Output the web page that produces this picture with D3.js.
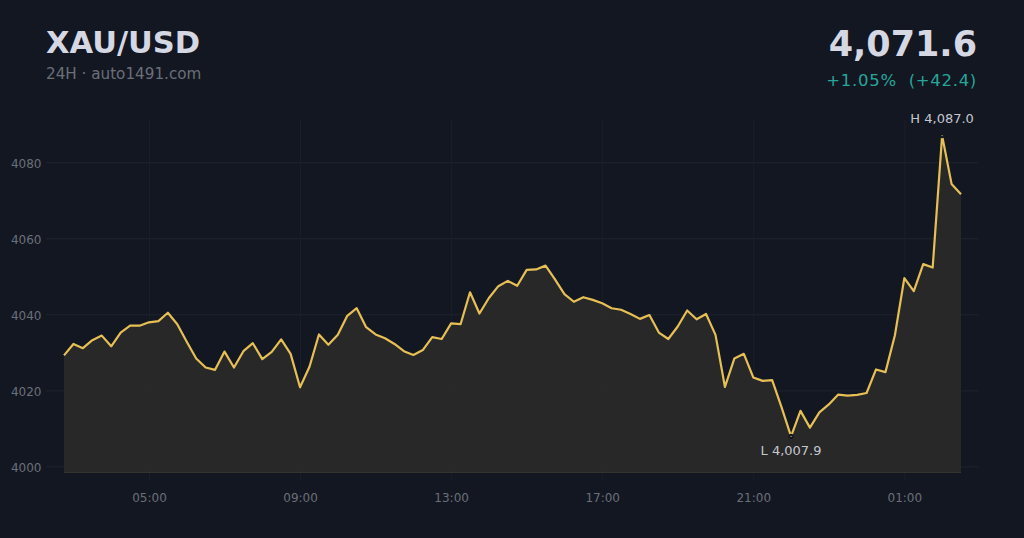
<!DOCTYPE html>
<html>
<head>
<meta charset="utf-8">
<script src="https://cdn.jsdelivr.net/npm/d3@7/dist/d3.min.js"></script>
<style>
  html, body { margin: 0; padding: 0; background: #131722; }
  svg { display: block; }
  text { font-family: "DejaVu Sans", sans-serif; }
</style>
</head>
<body>
<svg id="chart" width="1024" height="538"></svg>
<script>
// ---- data ----
const symbol = "XAU/USD";
const subtitle = "24H · auto1491.com";
const lastPriceLabel = "4,071.6";
const changeLabel = "+1.05%  (+42.4)";
const startTime = "02:45";      // first sample, 15-minute steps
const stepMinutes = 15;
const prices = [
  4029.2, 4032.2, 4031.1, 4033.2, 4034.4, 4031.6, 4035.2, 4037.0, 4037.0, 4037.9,
  4038.2, 4040.4, 4037.4, 4032.8, 4028.4, 4026.0, 4025.4, 4030.2, 4026.0, 4030.3,
  4032.4, 4028.2, 4030.1, 4033.4, 4029.6, 4020.8, 4026.2, 4034.7, 4032.0, 4034.6,
  4039.6, 4041.6, 4036.6, 4034.7, 4033.7, 4032.2, 4030.3, 4029.3, 4030.6, 4034.0,
  4033.5, 4037.6, 4037.4, 4045.8, 4040.2, 4044.3, 4047.4, 4048.8, 4047.5, 4051.7,
  4051.8, 4052.8, 4049.2, 4045.3, 4043.3, 4044.5, 4043.8, 4042.9, 4041.6, 4041.2,
  4040.1, 4038.8, 4039.8, 4035.2, 4033.5, 4036.8, 4041.0, 4038.7, 4040.1, 4034.6,
  4020.9, 4028.4, 4029.6, 4023.4, 4022.5, 4022.7, 4015.5, 4007.9, 4014.6, 4010.2,
  4014.2, 4016.3, 4018.9, 4018.6, 4018.8, 4019.3, 4025.5, 4024.8, 4034.5, 4049.5,
  4046.1, 4053.2, 4052.3, 4087.0, 4074.3, 4071.6
];
const xTickLabels = ["05:00", "09:00", "13:00", "17:00", "21:00", "01:00"];
const yTicks = [4000, 4020, 4040, 4060, 4080];
const highLabel = "H 4,087.0";
const lowLabel = "L 4,007.9";

// ---- build time axis data ----
const [sh, sm] = startTime.split(":").map(Number);
const t0 = new Date(2024, 0, 1, sh, sm);
const points = prices.map((v, i) => ({ t: new Date(t0.getTime() + i * stepMinutes * 60000), v }));
const tickDates = xTickLabels.map(s => {
  const [h, m] = s.split(":").map(Number);
  let d = new Date(2024, 0, 1, h, m);
  if (d < t0) d = new Date(2024, 0, 2, h, m);
  return d;
});

// ---- layout ----
const svg = d3.select("#chart");
const W = 1024, H = 538;
svg.append("rect").attr("width", W).attr("height", H).attr("fill", "#131722");

const plotTop = 120, plotBottom = 472.5;
const x = d3.scaleTime().domain(d3.extent(points, d => d.t)).range([64, 961]);
const y = d3.scaleLinear().domain([3998.4, 4091.1]).range([plotBottom, plotTop]);

// horizontal grid + y labels
const yAxis = svg.append("g")
  .attr("transform", "translate(46,0)")
  .call(d3.axisLeft(y).tickValues(yTicks).tickSize(-932).tickPadding(4.5).tickFormat(d3.format("d")));
yAxis.select(".domain").remove();
yAxis.selectAll("line").attr("stroke", "#1f2430").attr("stroke-width", 1);
yAxis.selectAll("text").attr("fill", "#6b6f78").attr("font-size", 12).attr("dy", "0.42em")
  .style("font-family", "DejaVu Sans, sans-serif");

// vertical grid + x labels
const xAxis = svg.append("g")
  .attr("transform", "translate(0,480)")
  .call(d3.axisBottom(x).tickValues(tickDates).tickSize(-360).tickPadding(13.5)
    .tickFormat((d, i) => xTickLabels[i]));
xAxis.select(".domain").remove();
xAxis.selectAll("line").attr("stroke", "#1b1f29").attr("stroke-width", 1);
xAxis.selectAll("text").attr("fill", "#6b6f78").attr("font-size", 12)
  .style("font-family", "DejaVu Sans, sans-serif");

// area
const area = d3.area().x(d => x(d.t)).y0(plotBottom).y1(d => y(d.v));
svg.append("path").datum(points).attr("d", area)
  .attr("fill", "#292929").attr("fill-opacity", 0.97);
svg.append("line")
  .attr("x1", x(points[0].t)).attr("x2", x(points[points.length - 1].t))
  .attr("y1", plotBottom).attr("y2", plotBottom)
  .attr("stroke", "#33332f").attr("stroke-width", 1);

// line
const line = d3.line().x(d => x(d.t)).y(d => y(d.v));
svg.append("path").datum(points).attr("d", line)
  .attr("fill", "none").attr("stroke", "#e6bf55").attr("stroke-width", 2.2)
  .attr("stroke-linejoin", "round");

// high / low markers
const hi = points.reduce((a, b) => (b.v > a.v ? b : a));
const lo = points.reduce((a, b) => (b.v < a.v ? b : a));
[hi, lo].forEach(p => {
  svg.append("circle").attr("cx", x(p.t)).attr("cy", y(p.v)).attr("r", 1.6)
    .attr("fill", "#e6bf55").attr("stroke", "#131722").attr("stroke-width", 2);
});
svg.append("text").attr("x", x(hi.t)).attr("y", y(hi.v) - 12.5)
  .attr("text-anchor", "middle").attr("font-size", 13).attr("fill", "#c4c7cf").text(highLabel);
svg.append("text").attr("x", x(lo.t)).attr("y", y(lo.v) + 19)
  .attr("text-anchor", "middle").attr("font-size", 13).attr("fill", "#c4c7cf").text(lowLabel);

// header
svg.append("text").attr("x", 46).attr("y", 53).attr("font-size", 30.5).attr("font-weight", "bold")
  .attr("fill", "#d5d8e2").text(symbol);
svg.append("text").attr("x", 46).attr("y", 79).attr("font-size", 15.2)
  .attr("fill", "#6b6f78").text(subtitle);
svg.append("text").attr("x", 977).attr("y", 56).attr("font-size", 35).attr("font-weight", "bold")
  .attr("text-anchor", "end").attr("fill", "#d5d8e2").text(lastPriceLabel);
svg.append("text").attr("x", 977).attr("y", 86).attr("font-size", 16.5)
  .attr("text-anchor", "end").attr("fill", "#26a69a").style("white-space", "pre")
  .attr("xml:space", "preserve").attr("letter-spacing", 0.7).text(changeLabel);
</script>
</body>
</html>
